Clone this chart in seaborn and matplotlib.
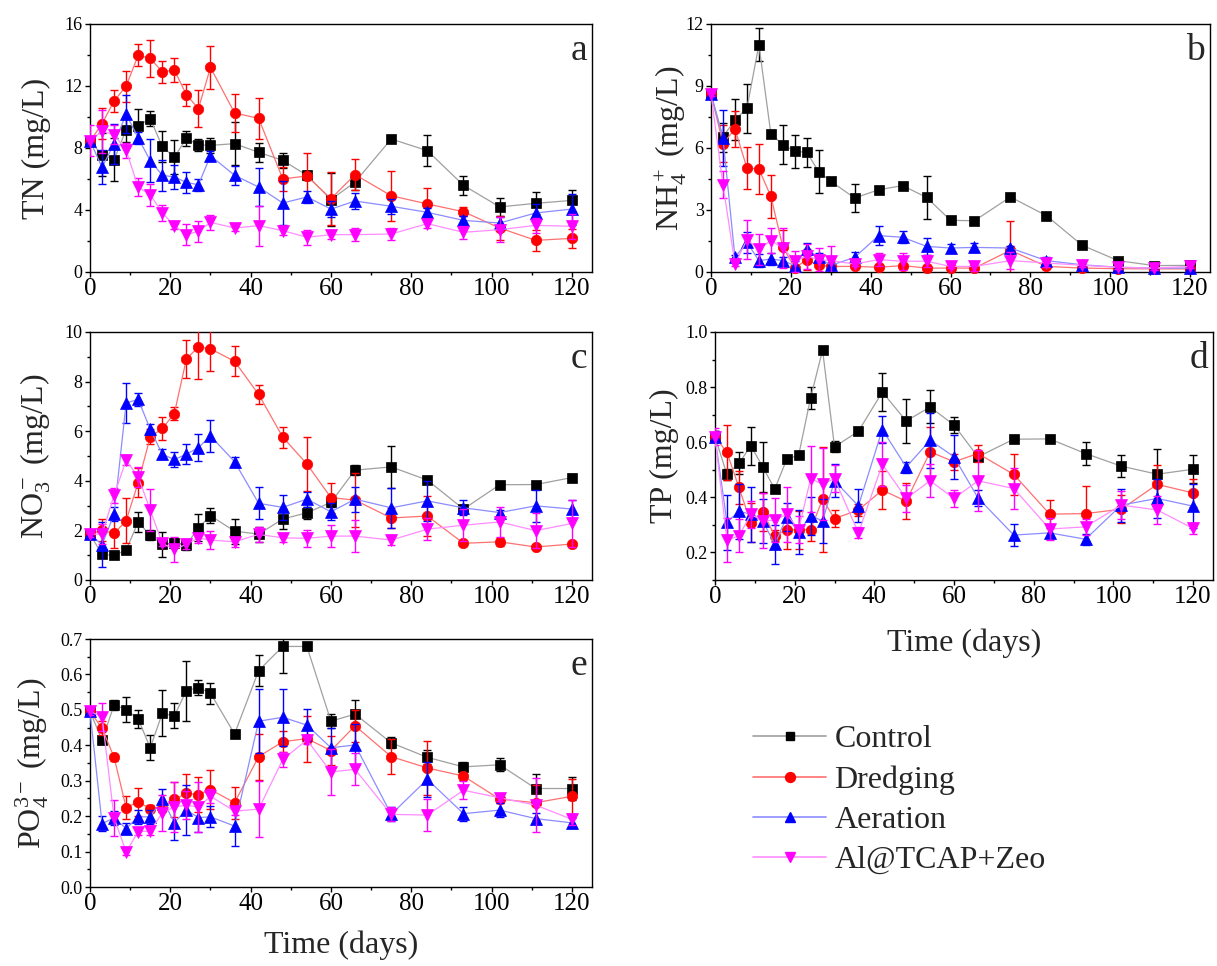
import matplotlib
matplotlib.use("Agg")
import matplotlib.pyplot as plt
from matplotlib.ticker import MultipleLocator, FormatStrFormatter
from matplotlib.lines import Line2D
import pandas as pd
import seaborn as sns

# Sampling days
days = [0, 3, 6, 9, 12, 15, 18, 21, 24, 27, 30, 36, 42, 48, 54, 60, 66, 75, 84, 93, 102, 111, 120]
treatments = ["Control", "Dredging", "Aeration", "Al@TCAP+Zeo"]

# Total nitrogen (mg/L)
tn_control = [8.43, 7.57, 7.25, 9.18, 9.44, 9.89, 8.10, 7.40, 8.62, 8.20, 8.17, 8.28, 7.72, 7.20, 6.24, 4.67, 5.80, 8.58, 7.83, 5.59, 4.20, 4.43, 4.62]
tn_control_err = [0.3, 1.4, 1.4, 0.8, 1.1, 0.5, 1.0, 1.1, 0.5, 0.4, 0.5, 1.4, 0.6, 0.5, 0.3, 1.7, 0.5, 0.2, 1.0, 0.6, 0.6, 0.7, 0.7]
tn_dredging = [8.43, 9.57, 11.03, 12.00, 13.98, 13.78, 12.92, 13.03, 11.44, 10.54, 13.20, 10.26, 9.91, 6.00, 6.20, 4.73, 6.28, 4.92, 4.39, 3.89, 2.84, 2.04, 2.17]
tn_dredging_err = [0.3, 1.0, 0.7, 1.0, 0.7, 1.2, 0.7, 0.8, 0.7, 1.2, 1.4, 1.2, 1.3, 0.8, 1.5, 1.7, 1.0, 1.6, 1.0, 0.3, 0.8, 0.7, 0.6]
tn_aeration = [8.47, 6.75, 8.28, 10.19, 8.65, 7.18, 6.24, 6.13, 5.78, 5.63, 7.50, 6.24, 5.48, 4.45, 4.84, 4.06, 4.58, 4.24, 3.85, 3.33, 3.16, 3.81, 4.06]
tn_aeration_err = [0.3, 1.1, 1.3, 1.2, 0.4, 1.4, 1.0, 0.8, 0.7, 0.4, 0.3, 0.6, 1.2, 1.4, 0.4, 0.5, 0.5, 0.5, 0.3, 0.3, 0.4, 0.6, 1.0]
tn_zeo = [8.47, 9.08, 8.86, 7.85, 5.48, 4.99, 3.81, 2.99, 2.41, 2.62, 3.20, 2.84, 2.99, 2.67, 2.24, 2.41, 2.41, 2.45, 3.12, 2.56, 2.73, 3.01, 2.95]
tn_zeo_err = [1.0, 1.4, 0.6, 0.5, 0.6, 0.7, 0.5, 0.2, 0.7, 0.7, 0.5, 0.2, 1.3, 0.3, 0.5, 0.3, 0.4, 0.4, 0.3, 0.4, 0.8, 0.5, 0.8]

# Ammonium (mg/L)
nh4_control = [8.61, 6.53, 7.37, 7.92, 11.00, 6.68, 6.16, 5.84, 5.79, 4.85, 4.39, 3.58, 3.98, 4.18, 3.61, 2.50, 2.48, 3.63, 2.73, 1.29, 0.55, 0.31, 0.32]
nh4_control_err = [0.1, 0.7, 1.0, 1.2, 0.8, 0.1, 0.95, 0.8, 0.7, 1.05, 0.1, 0.7, 0.1, 0.1, 1.05, 0.1, 0.1, 0.1, 0.1, 0.1, 0.05, 0.05, 0.05]
nh4_dredging = [8.61, 6.21, 6.92, 5.03, 4.98, 3.66, 1.21, 0.19, 0.60, 0.32, 0.27, 0.27, 0.23, 0.31, 0.19, 0.19, 0.19, 1.05, 0.27, 0.19, 0.16, 0.15, 0.15]
nh4_dredging_err = [0.1, 0.9, 0.85, 1.0, 1.2, 1.05, 0.8, 0.1, 0.5, 0.1, 0.1, 0.05, 0.1, 0.05, 0.05, 0.05, 0.05, 1.4, 0.1, 0.05, 0.05, 0.05, 0.05]
nh4_aeration = [8.61, 6.48, 0.71, 1.44, 0.55, 0.63, 0.55, 0.31, 1.11, 0.71, 0.32, 0.71, 1.76, 1.68, 1.24, 1.16, 1.19, 1.16, 0.55, 0.35, 0.23, 0.19, 0.19]
nh4_aeration_err = [0.1, 1.35, 0.1, 0.5, 0.3, 0.3, 0.2, 0.2, 0.3, 0.2, 0.1, 0.25, 0.45, 0.3, 0.4, 0.2, 0.2, 0.1, 0.2, 0.1, 0.05, 0.05, 0.05]
nh4_zeo = [8.61, 4.23, 0.39, 1.56, 1.11, 1.52, 1.16, 0.52, 0.76, 0.60, 0.55, 0.39, 0.60, 0.52, 0.52, 0.27, 0.27, 0.55, 0.44, 0.32, 0.23, 0.19, 0.27]
nh4_zeo_err = [0.1, 0.65, 0.1, 0.95, 0.75, 0.6, 0.95, 0.5, 0.6, 0.55, 0.7, 0.1, 0.3, 0.4, 0.3, 0.1, 0.2, 0.4, 0.2, 0.1, 0.1, 0.1, 0.1]

# Nitrate (mg/L)
no3_control = [1.85, 1.03, 0.99, 1.21, 2.34, 1.80, 1.44, 1.50, 1.41, 2.11, 2.59, 1.97, 1.85, 2.46, 2.71, 3.13, 4.43, 4.56, 4.03, 2.86, 3.84, 3.85, 4.13]
no3_control_err = [0.1, 0.1, 0.1, 0.1, 0.4, 0.2, 0.5, 0.2, 0.2, 0.55, 0.3, 0.5, 0.3, 0.4, 0.25, 0.2, 0.2, 0.85, 0.1, 0.15, 0.1, 0.1, 0.15]
no3_dredging = [1.85, 2.01, 1.88, 2.39, 3.93, 5.77, 6.11, 6.71, 8.91, 9.40, 9.32, 8.82, 7.48, 5.76, 4.68, 3.32, 3.22, 2.50, 2.58, 1.48, 1.54, 1.33, 1.45]
no3_dredging_err = [0.1, 0.45, 0.6, 0.9, 0.6, 0.3, 0.45, 0.25, 0.75, 1.3, 0.9, 0.6, 0.4, 0.42, 1.1, 0.6, 1.1, 0.4, 0.8, 0.1, 0.15, 0.1, 0.1]
no3_aeration = [1.85, 1.42, 2.66, 7.14, 7.28, 6.08, 5.07, 4.86, 5.07, 5.34, 5.81, 4.77, 3.09, 2.93, 3.26, 2.75, 3.26, 2.91, 3.19, 2.91, 2.72, 2.99, 2.86]
no3_aeration_err = [0.1, 0.9, 0.3, 0.8, 0.25, 0.2, 0.2, 0.3, 0.4, 0.55, 0.65, 0.2, 0.65, 0.5, 0.3, 0.35, 0.5, 0.8, 0.8, 0.3, 0.1, 0.65, 0.35]
no3_zeo = [1.85, 1.85, 3.42, 4.83, 4.16, 2.82, 1.48, 1.23, 1.44, 1.70, 1.61, 1.54, 1.84, 1.70, 1.68, 1.77, 1.77, 1.61, 2.05, 2.21, 2.34, 1.99, 2.28]
no3_zeo_err = [0.1, 0.4, 0.3, 0.2, 0.4, 0.85, 0.1, 0.5, 0.2, 0.2, 0.35, 0.2, 0.3, 0.15, 0.35, 0.45, 0.65, 0.2, 0.45, 0.65, 0.6, 0.7, 0.95]

# Total phosphorus (mg/L)
tp_control = [0.620, 0.483, 0.523, 0.587, 0.510, 0.430, 0.538, 0.553, 0.761, 0.934, 0.583, 0.640, 0.782, 0.677, 0.728, 0.662, 0.547, 0.611, 0.612, 0.559, 0.513, 0.484, 0.502]
tp_control_err = [0.02, 0.02, 0.04, 0.07, 0.09, 0.01, 0.01, 0.01, 0.04, 0.01, 0.02, 0.01, 0.07, 0.08, 0.06, 0.03, 0.01, 0.01, 0.01, 0.04, 0.04, 0.09, 0.05]
tp_dredging = [0.620, 0.563, 0.436, 0.308, 0.347, 0.260, 0.283, 0.281, 0.283, 0.393, 0.323, 0.354, 0.426, 0.386, 0.565, 0.529, 0.559, 0.483, 0.339, 0.341, 0.357, 0.447, 0.416]
tp_dredging_err = [0.02, 0.1, 0.06, 0.07, 0.07, 0.02, 0.07, 0.07, 0.04, 0.19, 0.03, 0.02, 0.07, 0.065, 0.09, 0.03, 0.03, 0.075, 0.05, 0.1, 0.05, 0.07, 0.05]
tp_aeration = [0.620, 0.309, 0.350, 0.338, 0.314, 0.229, 0.329, 0.275, 0.333, 0.315, 0.460, 0.369, 0.646, 0.510, 0.607, 0.547, 0.398, 0.263, 0.271, 0.248, 0.372, 0.396, 0.368]
tp_aeration_err = [0.02, 0.1, 0.1, 0.1, 0.08, 0.07, 0.05, 0.08, 0.07, 0.08, 0.06, 0.06, 0.05, 0.02, 0.1, 0.08, 0.03, 0.04, 0.02, 0.02, 0.06, 0.07, 0.08]
tp_zeo = [0.620, 0.245, 0.260, 0.338, 0.315, 0.317, 0.339, 0.283, 0.468, 0.448, 0.468, 0.271, 0.520, 0.396, 0.460, 0.396, 0.460, 0.432, 0.285, 0.293, 0.372, 0.354, 0.287]
tp_zeo_err = [0.03, 0.08, 0.06, 0.05, 0.1, 0.08, 0.1, 0.05, 0.12, 0.13, 0.05, 0.02, 0.08, 0.05, 0.06, 0.03, 0.11, 0.075, 0.04, 0.03, 0.05, 0.05, 0.02]

# Phosphate (mg/L)
po4_control = [0.496, 0.414, 0.514, 0.501, 0.474, 0.393, 0.490, 0.483, 0.554, 0.563, 0.547, 0.432, 0.611, 0.679, 0.679, 0.468, 0.488, 0.407, 0.366, 0.339, 0.345, 0.278, 0.278]
po4_control_err = [0.01, 0.01, 0.015, 0.035, 0.025, 0.035, 0.065, 0.035, 0.085, 0.02, 0.03, 0.01, 0.045, 0.075, 0.01, 0.02, 0.04, 0.015, 0.02, 0.015, 0.018, 0.04, 0.033]
po4_dredging = [0.496, 0.448, 0.366, 0.224, 0.240, 0.221, 0.223, 0.247, 0.264, 0.261, 0.275, 0.238, 0.368, 0.410, 0.419, 0.385, 0.455, 0.368, 0.336, 0.313, 0.248, 0.238, 0.256]
po4_dredging_err = [0.01, 0.02, 0.01, 0.033, 0.04, 0.01, 0.01, 0.05, 0.055, 0.05, 0.055, 0.045, 0.065, 0.03, 0.065, 0.04, 0.045, 0.05, 0.075, 0.01, 0.01, 0.05, 0.05]
po4_aeration = [0.496, 0.179, 0.195, 0.165, 0.198, 0.198, 0.247, 0.182, 0.217, 0.196, 0.198, 0.172, 0.468, 0.479, 0.457, 0.393, 0.401, 0.205, 0.304, 0.207, 0.217, 0.193, 0.181]
po4_aeration_err = [0.01, 0.02, 0.02, 0.015, 0.02, 0.02, 0.03, 0.05, 0.07, 0.04, 0.03, 0.055, 0.09, 0.08, 0.045, 0.055, 0.06, 0.02, 0.05, 0.02, 0.02, 0.015, 0.015]
po4_zeo = [0.496, 0.480, 0.195, 0.099, 0.156, 0.158, 0.209, 0.226, 0.231, 0.226, 0.256, 0.214, 0.220, 0.360, 0.415, 0.325, 0.332, 0.205, 0.203, 0.273, 0.252, 0.231, 0.191]
po4_zeo_err = [0.01, 0.04, 0.05, 0.01, 0.01, 0.01, 0.05, 0.07, 0.04, 0.07, 0.02, 0.01, 0.08, 0.02, 0.01, 0.065, 0.045, 0.02, 0.045, 0.025, 0.01, 0.077, 0.015]

sns.set_theme(style="ticks")
plt.rcParams["font.family"] = ["Liberation Serif", "DejaVu Serif"]
plt.rcParams["mathtext.fontset"] = "custom"
plt.rcParams["mathtext.rm"] = "Liberation Serif"
plt.rcParams["mathtext.it"] = "Liberation Serif:italic"
plt.rcParams["mathtext.bf"] = "Liberation Serif:bold"
plt.rcParams["axes.edgecolor"] = "black"
plt.rcParams["axes.linewidth"] = 1.0
plt.rcParams["xtick.color"] = "black"
plt.rcParams["ytick.color"] = "black"

marker_colors = ["#000000", "#ff0000", "#0000ff", "#ff00ff"]
line_colors = ["#a0a0a0", "#ff7070", "#8c8cff", "#ff8cff"]
markers = ["s", "o", "^", "v"]
marker_sizes = [6.5, 7.5, 8.0, 8.0]

W, H = 1217, 966
fig = plt.figure(figsize=(W / 100, H / 100), dpi=100)


def rect(left, top, right, bottom):
    return [left / W, 1 - bottom / H, (right - left) / W, (bottom - top) / H]


panels = [
    dict(box=rect(90, 24, 592, 272),
         series=[(tn_control, tn_control_err), (tn_dredging, tn_dredging_err),
                 (tn_aeration, tn_aeration_err), (tn_zeo, tn_zeo_err)],
         ylim=(0, 16), major=4, minor=2, fmt="%d",
         ylabel="TN (mg/L)", letter="a", labelx=-0.078, xlabel=None),
    dict(box=rect(711, 24, 1210, 272),
         series=[(nh4_control, nh4_control_err), (nh4_dredging, nh4_dredging_err),
                 (nh4_aeration, nh4_aeration_err), (nh4_zeo, nh4_zeo_err)],
         ylim=(0, 12), major=3, minor=1.5, fmt="%d",
         ylabel=r"NH$_4^+$ (mg/L)", letter="b", labelx=-0.045, xlabel=None),
    dict(box=rect(90, 332, 592, 580),
         series=[(no3_control, no3_control_err), (no3_dredging, no3_dredging_err),
                 (no3_aeration, no3_aeration_err), (no3_zeo, no3_zeo_err)],
         ylim=(0, 10), major=2, minor=1, fmt="%d",
         ylabel=r"NO$_3^-$ (mg/L)", letter="c", labelx=-0.074, xlabel=None),
    dict(box=rect(715, 332, 1213, 580),
         series=[(tp_control, tp_control_err), (tp_dredging, tp_dredging_err),
                 (tp_aeration, tp_aeration_err), (tp_zeo, tp_zeo_err)],
         ylim=(0.1, 1.0), major=0.2, minor=0.1, fmt="%.1f",
         ylabel="TP (mg/L)", letter="d", labelx=-0.072, xlabel=-0.194),
    dict(box=rect(90, 639, 592, 887),
         series=[(po4_control, po4_control_err), (po4_dredging, po4_dredging_err),
                 (po4_aeration, po4_aeration_err), (po4_zeo, po4_zeo_err)],
         ylim=(0.0, 0.7), major=0.1, minor=0.05, fmt="%.1f",
         ylabel=r"PO$_4^{3-}$ (mg/L)", letter="e", labelx=-0.078, xlabel=-0.177),
]

for p in panels:
    ax = fig.add_axes(p["box"])
    for i, (vals, errs) in enumerate(p["series"]):
        ax.errorbar(days, vals, yerr=errs, fmt="none", ecolor=marker_colors[i],
                    elinewidth=1.0, capsize=3, capthick=1.0, zorder=2 + i)
        df = pd.DataFrame({"day": days, "value": vals})
        sns.lineplot(data=df, x="day", y="value", ax=ax, estimator=None,
                     errorbar=None, legend=False, color=line_colors[i],
                     linewidth=0.9, marker=markers[i], markersize=marker_sizes[i],
                     markerfacecolor=marker_colors[i],
                     markeredgecolor=marker_colors[i], markeredgewidth=0.5,
                     clip_on=False, zorder=2.5 + i)
    ax.set_xlim(0, 125)
    ax.set_ylim(*p["ylim"])
    ax.xaxis.set_major_locator(MultipleLocator(20))
    ax.xaxis.set_minor_locator(MultipleLocator(10))
    ax.yaxis.set_major_locator(MultipleLocator(p["major"]))
    ax.yaxis.set_minor_locator(MultipleLocator(p["minor"]))
    ax.yaxis.set_major_formatter(FormatStrFormatter(p["fmt"]))
    ax.tick_params(axis="x", which="major", direction="out", length=3.5,
                   width=1.0, labelsize=18, pad=1)
    ax.tick_params(axis="x", which="minor", direction="out", length=2.2, width=1.0)
    ax.tick_params(axis="y", which="major", direction="out", length=3.8,
                   width=1.0, labelsize=13, pad=1.5)
    ax.tick_params(axis="y", which="minor", direction="out", length=2.2, width=1.0)
    ax.tick_params(top=False, right=False, which="both")
    for s in ax.spines.values():
        s.set_color("black")
        s.set_linewidth(1.0)
    ax.set_ylabel(p["ylabel"], fontsize=23)
    ax.yaxis.set_label_coords(p["labelx"], 0.5)
    if p["xlabel"] is not None:
        ax.set_xlabel("Time (days)", fontsize=23)
        ax.xaxis.set_label_coords(0.5, p["xlabel"])
    else:
        ax.set_xlabel("")
    ax.text(0.99, 0.855, p["letter"], transform=ax.transAxes, ha="right",
            va="baseline", fontsize=27)

handles = [Line2D([], [], color=line_colors[i], linewidth=1.2, marker=markers[i],
                  markersize=marker_sizes[i] * 0.95, markerfacecolor=marker_colors[i],
                  markeredgecolor=marker_colors[i]) for i in range(4)]
fig.legend(handles, treatments, loc="upper left", bbox_to_anchor=(753 / W, 1 - 725 / H),
           frameon=False, fontsize=23, handlelength=2.3, handletextpad=0.25,
           labelspacing=0.34, borderpad=0, borderaxespad=0)

fig.savefig("out.png", dpi=100)
